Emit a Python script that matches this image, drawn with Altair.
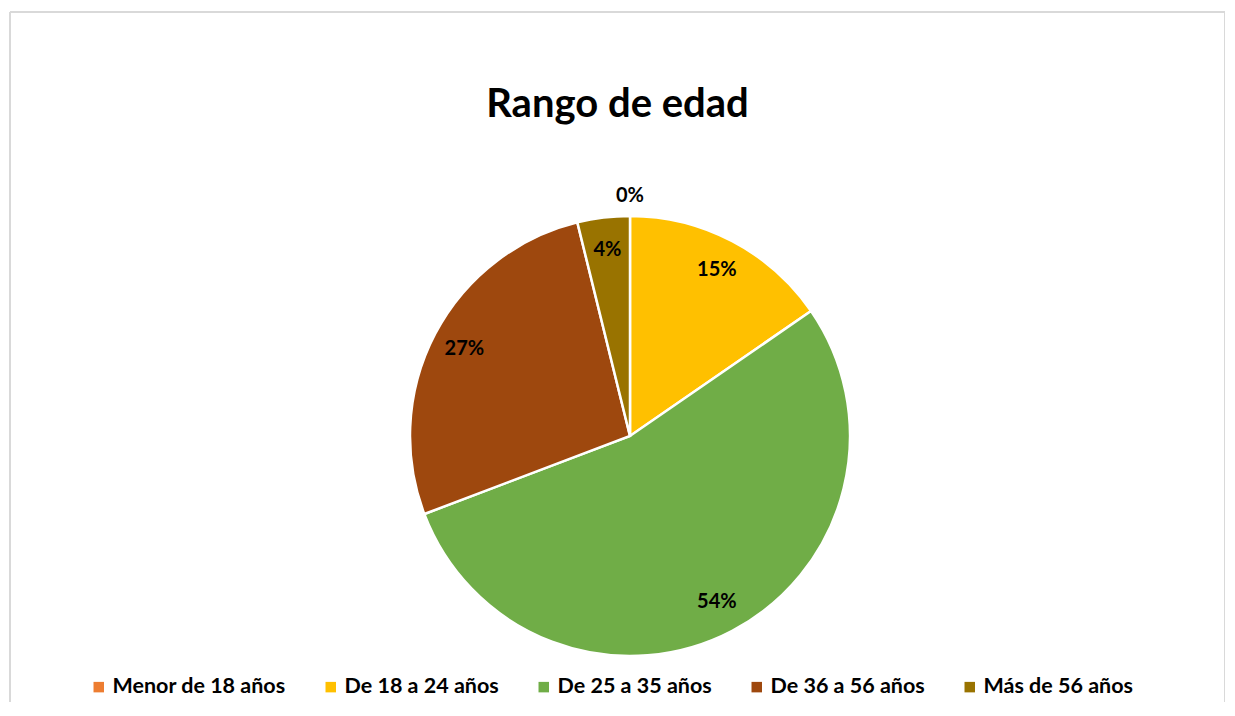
import altair as alt
import pandas as pd

categories = ["Menor de 18 años", "De 18 a 24 años", "De 25 a 35 años", "De 36 a 56 años", "Más de 56 años"]
counts = [0, 4, 14, 7, 1]
colors = ["#ED7D31", "#FFC000", "#70AD47", "#9E480E", "#997300"]

total = sum(counts)
df = pd.DataFrame({
    "categoria": categories,
    "count": counts,
    "idx": list(range(len(categories))),
    "pct": [f"{round(c / total * 100)}%" for c in counts],
})

W, H = 1215, 690
CX, CY = 620, 424
FONT = "Lato"
BORDER = "#D9D9D9"

base = alt.Chart(df).encode(
    theta=alt.Theta("count:Q", stack=True),
    order=alt.Order("idx:Q"),
)

arcs = base.mark_arc(outerRadius=220, stroke="white", strokeWidth=2.5).encode(
    x=alt.value(CX),
    y=alt.value(CY),
    color=alt.Color(
        "categoria:N",
        sort=categories,
        scale=alt.Scale(domain=categories, range=colors),
        legend=alt.Legend(
            title=None,
            orient="none",
            direction="horizontal",
            legendX=78,
            legendY=664,
            symbolType="square",
            symbolSize=110,
            symbolStrokeWidth=0,
            labelFont=FONT,
            labelFontSize=21.5,
            labelFontWeight="bold",
            labelColor="black",
            labelOffset=3,
            columnPadding=34,
            labelLimit=400,
        ),
    ),
)

labels = base.mark_text(font=FONT, fontSize=20, fontWeight="bold", color="black").transform_calculate(
    labelR="datum.count == 0 ? 240 : 187"
).encode(
    x=alt.value(CX),
    y=alt.value(CY),
    radius=alt.Radius("labelR:Q", scale=None),
    text="pct:N",
)

frame_src = alt.Chart(alt.Data(values=[{"k": 0}]))
top_rule = frame_src.mark_rule(color=BORDER, strokeWidth=2).encode(
    x=alt.value(0), x2=alt.value(W), y=alt.value(0)
)
left_rule = frame_src.mark_rule(color=BORDER, strokeWidth=2).encode(
    x=alt.value(0), y=alt.value(0), y2=alt.value(H + 10)
)
right_rule = frame_src.mark_rule(color=BORDER, strokeWidth=2).encode(
    x=alt.value(W), y=alt.value(0), y2=alt.value(H + 10)
)

chart = (
    alt.layer(top_rule, left_rule, right_rule, arcs, labels)
    .properties(
        width=W,
        height=H,
        padding={"left": 2, "top": 4, "right": 0, "bottom": 0},
        autosize=alt.AutoSizeParams(type="none"),
        title=alt.TitleParams(
            "Rango de edad",
            font=FONT,
            fontSize=40,
            fontWeight="bold",
            color="black",
            anchor="middle",
            orient="top",
            baseline="middle",
            dy=138,
        ),
    )
    .configure_view(stroke=None)
    .configure(background="white")
)

chart.save("out.html", embed_options={"renderer": "svg", "actions": False})
